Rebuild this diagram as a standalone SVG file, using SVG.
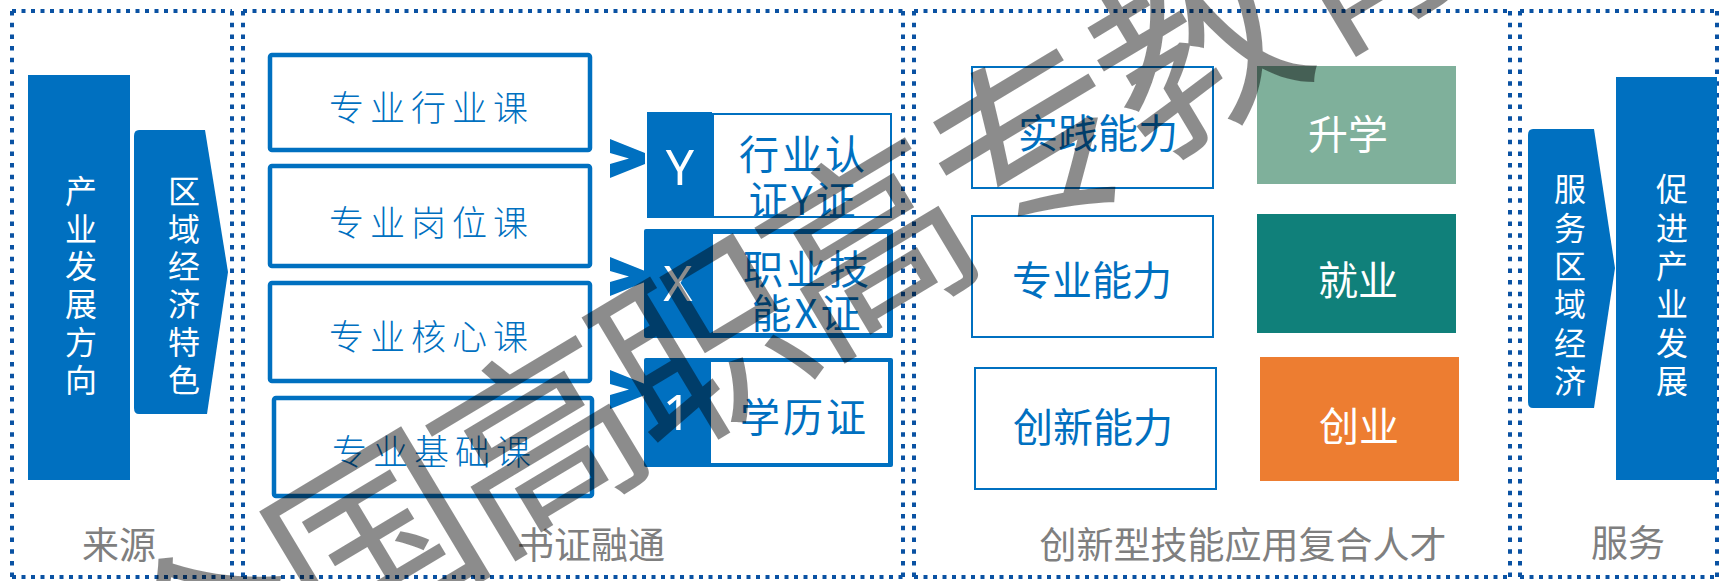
<svg xmlns="http://www.w3.org/2000/svg" width="1719" height="581" viewBox="0 0 1719 581">
<style>
.dh{fill:none;stroke:#0A52A3;stroke-width:4;stroke-dasharray:4 5.5}
.dv{fill:none;stroke:#0A52A3;stroke-width:4;stroke-dasharray:4.5 7.2}
.blue{fill:#0070C0}
.cjk{font-family:"Noto Sans CJK SC","Noto Sans",sans-serif;text-anchor:middle;dominant-baseline:central}
.vt{font-size:32px;fill:#fff}
.lbl{font-size:37px;fill:#7F7F7F}
.course{font-size:35px;font-weight:300;letter-spacing:6px;fill:#0070C0}
.cbox{fill:#fff;stroke:#0070C0;stroke-width:4.5}
.cert{font-size:40px;fill:#0070C0;letter-spacing:3px}
.cap{font-family:"Noto Sans","Open Sans",sans-serif;font-size:50px;fill:#fff;text-anchor:middle;dominant-baseline:central}
.abox{fill:#fff;stroke:#0070C0;stroke-width:2}
.abil{font-size:40px;fill:#0070C0}
.out{font-size:40px;fill:#fff}
</style>
<defs>
<polygon id="chev" points="610,139 645,153 645,164 610,178 610,164 629,158.5 610,153" fill="#0070C0"/>
</defs>

<g id="panel-source">
<path class="dh" d="M12 11H232M12 577H232"/>
<path class="dv" d="M12 11V577M232 11V577"/>
<text class="cjk lbl" x="119" y="543">来源</text>
</g>
<g id="panel-cert">
<path class="dh" d="M243 11H903M243 577H903"/>
<path class="dv" d="M243 11V577M903 11V577"/>
<text class="cjk lbl" x="591" y="543">书证融通</text>
</g>
<g id="panel-talent">
<path class="dh" d="M914 11H1510M914 577H1510"/>
<path class="dv" d="M914 11V577M1510 11V577"/>
<text class="cjk lbl" x="1243" y="543">创新型技能应用复合人才</text>
</g>
<g id="panel-service">
<path class="dh" d="M1520 11H1717M1520 577H1717"/>
<path class="dv" d="M1520 11V577M1717 11V577"/>
<text class="cjk lbl" x="1628" y="541">服务</text>
</g>

<g id="node-industry">
<rect class="blue" x="28" y="75" width="102" height="405"/>
<text class="cjk vt"><tspan x="81" y="189">产</tspan><tspan x="81" y="226.5">业</tspan><tspan x="81" y="264">发</tspan><tspan x="81" y="302">展</tspan><tspan x="81" y="340">方</tspan><tspan x="81" y="378">向</tspan></text>
</g>
<g id="node-region">
<path class="blue" d="M139 130H205L228 272L207 414H139Q134 414 134 408V136Q134 130 139 130Z"/>
<text class="cjk vt"><tspan x="184" y="189">区</tspan><tspan x="184" y="226.5">域</tspan><tspan x="184" y="264">经</tspan><tspan x="184" y="302">济</tspan><tspan x="184" y="340">特</tspan><tspan x="184" y="378">色</tspan></text>
</g>

<g id="node-course1"><rect class="cbox" x="270" y="55" width="320" height="95" rx="2"/><text class="cjk course" x="431.5" y="105">专业行业课</text></g>
<g id="node-course2"><rect class="cbox" x="270" y="166" width="320" height="100" rx="2"/><text class="cjk course" x="431.5" y="220">专业岗位课</text></g>
<g id="node-course3"><rect class="cbox" x="270" y="283" width="320" height="98" rx="2"/><text class="cjk course" x="431.5" y="334">专业核心课</text></g>
<g id="node-course4"><rect class="cbox" x="274" y="398" width="318" height="98" rx="2"/><text class="cjk course" x="434.5" y="449">专业基础课</text></g>

<g id="connectors">
<use href="#chev"/>
<use href="#chev" y="118"/>
<use href="#chev" y="231"/>
</g>

<g id="node-certY">
<rect class="blue" x="647" y="112" width="65" height="106"/>
<rect x="713" y="114" width="178" height="103" fill="#fff" stroke="#0070C0" stroke-width="2"/>
<text class="cap" x="680" y="166">Y</text>
<text class="cjk cert"><tspan x="803.5" y="152">行业认</tspan><tspan x="803.5" y="198">证Y证</tspan></text>
</g>
<g id="node-certX">
<rect class="blue" x="644" y="229" width="249" height="109" rx="2"/>
<rect x="713" y="234" width="174" height="99" fill="#fff"/>
<text class="cap" x="678" y="282">X</text>
<text class="cjk cert"><tspan x="807.5" y="267">职业技</tspan><tspan x="807.5" y="311">能X证</tspan></text>
</g>
<g id="node-cert1">
<rect class="blue" x="644" y="358" width="249" height="109" rx="2"/>
<rect x="711" y="362" width="177" height="101" fill="#fff"/>
<text class="cap" x="677" y="411">1</text>
<text class="cjk cert" x="804.5" y="415">学历证</text>
</g>

<g id="node-practice"><rect class="abox" x="972" y="67" width="241" height="121"/><text class="cjk abil" x="1098" y="131">实践能力</text></g>
<g id="node-major"><rect class="abox" x="972" y="216" width="241" height="121"/><text class="cjk abil" x="1092" y="278">专业能力</text></g>
<g id="node-innov"><rect class="abox" x="975" y="368" width="241" height="121"/><text class="cjk abil" x="1093" y="425">创新能力</text></g>

<g id="node-study"><rect x="1257" y="66" width="199" height="118" fill="#7FB09B"/><text class="cjk out" x="1348" y="132">升学</text></g>
<g id="node-job"><rect x="1257" y="214" width="199" height="119" fill="#10807A"/><text class="cjk out" x="1358" y="278">就业</text></g>
<g id="node-startup"><rect x="1260" y="357" width="199" height="124" fill="#ED7D31"/><text class="cjk out" x="1359" y="424">创业</text></g>

<g id="node-serve">
<path class="blue" d="M1533 129H1594L1615 268L1594 408H1533Q1528 408 1528 402V135Q1528 129 1533 129Z"/>
<text class="cjk vt"><tspan x="1570" y="187">服</tspan><tspan x="1570" y="226">务</tspan><tspan x="1570" y="264">区</tspan><tspan x="1570" y="302">域</tspan><tspan x="1570" y="341">经</tspan><tspan x="1570" y="379">济</tspan></text>
</g>
<g id="node-promote">
<rect class="blue" x="1616" y="77" width="101" height="403"/>
<text class="cjk vt"><tspan x="1672" y="187">促</tspan><tspan x="1672" y="226">进</tspan><tspan x="1672" y="264">产</tspan><tspan x="1672" y="302">业</tspan><tspan x="1672" y="341">发</tspan><tspan x="1672" y="379">展</tspan></text>
</g>

<g id="watermark">
<text class="cjk" transform="translate(772 292) rotate(-31)" x="6" y="-4" font-size="200" letter-spacing="-8" fill="#000" fill-opacity="0.45">全国高职高专教育</text>
</g>
</svg>
